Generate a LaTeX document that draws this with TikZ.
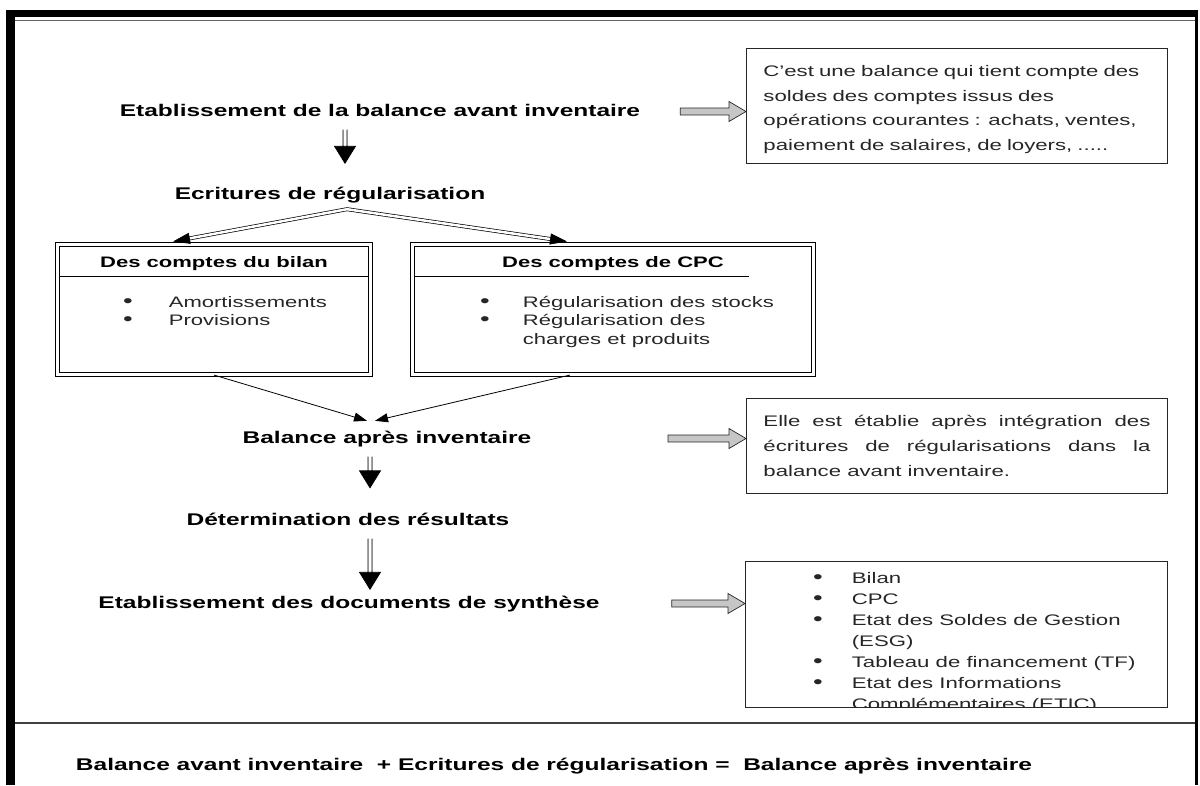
\documentclass[tikz,border=0pt]{standalone}
\usepackage{fontspec}
\setmainfont[FakeStretch=1.45]{Liberation Sans}
\usetikzlibrary{arrows.meta,positioning,calc}

\newcommand\puce{{\fontsize{19}{19}\selectfont\textbullet}}

\tikzset{
  heading/.style={font=\bfseries\fontsize{16.9}{20}\selectfont, anchor=base, inner sep=0pt,
    text height=12.5pt, text depth=3.5pt},
  note/.style={draw=black!85, line width=0.9pt, anchor=north west, inner xsep=17pt, inner ysep=0pt,
    font=\fontsize{15.3}{24.6}\selectfont, text=black!85},
  dblbox/.style={draw, double, double distance=2.4pt, line width=1.1pt, inner sep=0pt},
  boxhead/.style={font=\bfseries\fontsize{15.2}{18}\selectfont, anchor=base, inner sep=0pt},
  items/.style={anchor=base west, inner sep=0pt, text=black!85},
  dblarrow/.style={draw, fill, line width=0.7pt, to path={let \p1=(\tikztostart), \p2=(\tikztotarget) in
    (\x1-2pt,\y1) -- (\x1-2pt,\y2+16pt) (\x1+2pt,\y1) -- (\x1+2pt,\y2+16pt)
    (\x1,\y2) -- (\x1-10.5pt,\y2+17pt) -- (\x1+10.5pt,\y2+17pt) -- cycle}},
  forkarrow/.style={double, double distance=2.5pt, line width=0.7pt,
    {Triangle[width=11pt,length=17pt]}-{Triangle[width=11pt,length=17pt]}},
  thinarrow/.style={line width=0.8pt, -{Triangle[width=9pt,length=13pt]}},
  grayarrow/.style={draw=black!85, fill=gray!45, line width=0.7pt, to path={let \p1=(\tikztostart), \p2=(\tikztotarget) in
    (\x1,\y1+3.5pt) -- (\x2-17pt,\y1+3.5pt) -- (\x2-17pt,\y1+10pt) -- (\x2,\y1) -- (\x2-17pt,\y1-10pt)
    -- (\x2-17pt,\y1-3.5pt) -- (\x1,\y1-3.5pt) -- cycle}}
}

\begin{document}
\begin{tikzpicture}[x=1pt, y=-1pt]
  \useasboundingbox (0,0) rectangle (1200,785);

  % cadre
  \fill (6,10) rectangle (1198,17);
  \fill (6,17) rectangle (15,785);
  \fill (1195,17) rectangle (1198,785);
  \draw[black!60, line width=0.8pt] (15,20) -- (1195,20);
  \draw[black!75, line width=1.6pt] (15,723) -- (1195,723);

  % titres
  \node[heading] (avant) at (380,116) {Etablissement de la balance avant inventaire};
  \node[heading] (ecrit) at (330,199) {Ecritures de régularisation};
  \node[heading] (apres) at (387,443) {Balance après inventaire};
  \node[heading] (resultat) at (348,525) {Détermination des résultats};
  \node[heading] (synthese) at (349,608) {Etablissement des documents de synthèse};

  % notes
  \node[note, minimum width=421pt, minimum height=115pt, text width=387pt, align=left] (noteavant) at (746,48)
    {\rule{0pt}{18pt}C’est une balance qui tient compte des\\ soldes des comptes issus des\\
     opérations courantes : achats, ventes,\\ paiement de salaires, de loyers, .....};
  \node[note, minimum width=421pt, minimum height=95pt, text width=387pt, align=justify] (noteapres) at (746,398)
    {\hyphenpenalty=10000 Elle est établie après intégration des\linebreak écritures de régularisations dans la\linebreak
     balance avant inventaire.};
  \node[note, minimum width=422pt, minimum height=146pt] (notedocs) at (745,561) {};
  \begin{scope}
    \clip ([shift={(1,1)}]notedocs.north west) rectangle ([shift={(-1,-1)}]notedocs.south east);
    \node[items, font=\fontsize{15.3}{21}\selectfont] (docsliste) at (813,583)
      {\begin{tabular}[t]{@{}l@{\hspace{29pt}}l@{}}
        \puce & Bilan\\ \puce & CPC\\ \puce & Etat des Soldes de Gestion\\ & (ESG)\\
        \puce & Tableau de financement (TF)\\ \puce & Etat des Informations\\ & Complémentaires (ETIC)
       \end{tabular}};
  \end{scope}

  % les deux cadres
  \node[dblbox, minimum width=313pt, minimum height=130pt] (bilan) at (214,309.5) {};
  \node[dblbox, minimum width=401pt, minimum height=130pt] (cpc) at (613,309.5) {};
  \node[boxhead] (bilantitre) at ([shift={(0,23.5)}]bilan.north) {Des comptes du bilan};
  \node[boxhead] (cpctitre) at ([shift={(0,23.5)}]cpc.north) {Des comptes de CPC};
  \draw[line width=0.7pt] ([shift={(2.5,32.5)}]bilan.north west) -- ([shift={(-2.5,32.5)}]bilan.north east);
  \draw[line width=0.7pt] ([shift={(2.5,32.5)}]cpc.north west) -- ([shift={(337,32.5)}]cpc.north west);
  \node[items, font=\fontsize{15.2}{18.8}\selectfont] (bilanliste) at (123,307)
    {\begin{tabular}[t]{@{}l@{\hspace{36pt}}l@{}}
      \puce & Amortissements\\ \puce & Provisions
     \end{tabular}};
  \node[items, font=\fontsize{15.2}{18.8}\selectfont] (cpcliste) at (480,307)
    {\begin{tabular}[t]{@{}l@{\hspace{33pt}}l@{}}
      \puce & Régularisation des stocks\\ \puce & Régularisation des\\ & charges et produits
     \end{tabular}};

  % fleches
  \draw[dblarrow] ([shift={(-35,10)}]avant.south) to ([shift={(15,-23)}]ecrit.north);
  \coordinate (fourche) at ([shift={(17,6.5)}]ecrit.south);
  \draw[forkarrow] ([shift={(-41,-2.5)}]bilan.north) -- (fourche) -- ([shift={(-46,-2.5)}]cpc.north);
  \draw[thinarrow] (bilan.south) -- ([shift={(-20,-9.5)}]apres.north);
  \draw[thinarrow] ([xshift=-43pt]cpc.south) -- ([shift={(-12,-9.5)}]apres.north);
  \draw[dblarrow] ([shift={(-17,10)}]apres.south) to ([shift={(22,-24.5)}]resultat.north);
  \draw[dblarrow] ([shift={(22,10)}]resultat.south) to ([shift={(21,-6)}]synthese.north);

  \draw[grayarrow] ([xshift=40pt]avant.east) to (avant.east -| noteavant.west);
  \draw[grayarrow] ([xshift=136.5pt]apres.east) to (apres.east -| noteapres.west);
  \draw[grayarrow] ([xshift=72pt]synthese.east) to (synthese.east -| notedocs.west);

  % formule
  \node[heading] (formule) at (554,770)
    {Balance avant inventaire\ \ + Ecritures de régularisation =\ \ Balance après inventaire};
\end{tikzpicture}
\end{document}
